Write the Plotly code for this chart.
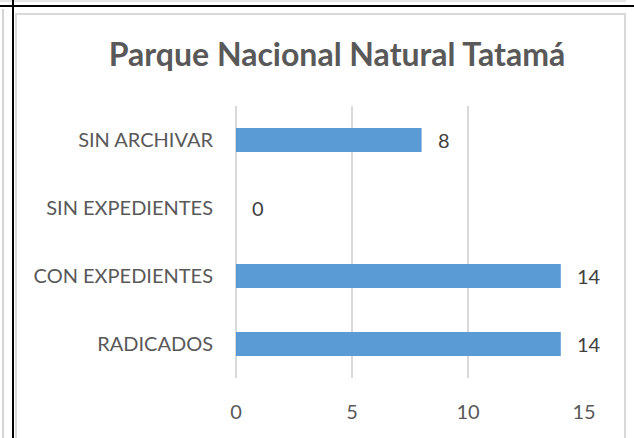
import plotly.graph_objects as go

categories = ["RADICADOS", "CON EXPEDIENTES", "SIN EXPEDIENTES", "SIN ARCHIVAR"]
values = [14, 14, 0, 8]
x_ticks = [0, 5, 10, 15]
title_text = "Parque Nacional Natural Tatamá"

W, H = 634, 438
L, R, T, B = 236, 50, 106, 60
pw, ph = W - L - R, H - T - B

def px(x):
    return (x - L) / pw

def py(y):
    return (H - B - y) / ph

FONT = "Lato"
TXT = "#595959"

fig = go.Figure()
fig.add_trace(go.Bar(
    y=categories, x=values, orientation="h",
    marker=dict(color="#5B9BD5", line=dict(width=0)),
    hoverinfo="skip",
))

for c, v in zip(categories, values):
    fig.add_annotation(x=v, y=c, text=str(v), showarrow=False,
                       xanchor="left", yanchor="middle", xshift=14,
                       font=dict(family=FONT, size=20, color="#404040"))

shapes = []
# outer frame lines
shapes.append(dict(type="line", xref="paper", yref="paper", x0=px(3), x1=px(3), y0=py(9), y1=py(445),
                   line=dict(color="#d4d4d4", width=2)))
shapes.append(dict(type="line", xref="paper", yref="paper", x0=px(0), x1=px(626), y0=py(1), y1=py(1),
                   line=dict(color="#dcdcdc", width=1.5)))
shapes.append(dict(type="line", xref="paper", yref="paper", x0=px(0), x1=px(640), y0=py(6), y1=py(6),
                   line=dict(color="black", width=2)))
shapes.append(dict(type="line", xref="paper", yref="paper", x0=px(13), x1=px(13), y0=py(-5), y1=py(445),
                   line=dict(color="black", width=2)))
# chart area border
shapes.append(dict(type="rect", xref="paper", yref="paper", x0=px(16), x1=px(625), y0=py(14), y1=py(460),
                   line=dict(color="#d9d9d9", width=2), fillcolor="rgba(0,0,0,0)"))

fig.update_layout(
    width=W, height=H,
    margin=dict(l=L, r=R, t=T, b=B, autoexpand=False),
    paper_bgcolor="white", plot_bgcolor="white",
    showlegend=False,
    bargap=0.647,
    shapes=shapes,
    title=dict(text="<b>" + title_text + "</b>", x=px(337), xanchor="center", xref="paper",
               y=1 - 55 / H, yanchor="middle", yref="container",
               font=dict(family=FONT, size=32, color=TXT)),
    xaxis=dict(range=[0, 15], tickvals=x_ticks, ticktext=[str(t) for t in x_ticks],
               showgrid=True, gridcolor="#d9d9d9", gridwidth=2,
               zeroline=True, zerolinecolor="#d9d9d9", zerolinewidth=2,
               showline=False, ticks="", ticklabelstandoff=20,
               tickfont=dict(family=FONT, size=20, color=TXT), fixedrange=True),
    yaxis=dict(categoryorder="array", categoryarray=categories,
               showgrid=False, zeroline=False, showline=False, ticks="",
               ticklabelstandoff=22,
               tickfont=dict(family=FONT, size=20, color=TXT), fixedrange=True),
)

fig.write_html("out.html", config={"displayModeBar": False},
               post_script="document.body.style.margin='0';document.body.style.overflow='hidden';")
